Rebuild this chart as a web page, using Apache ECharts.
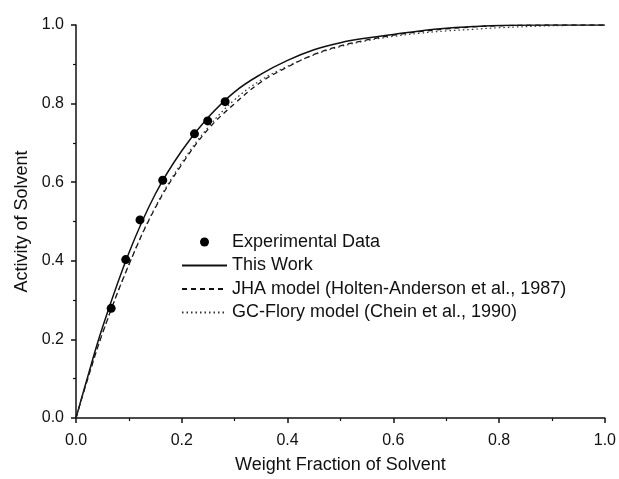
<!DOCTYPE html>
<html>
<head>
<meta charset="utf-8">
<script src="https://cdn.jsdelivr.net/npm/echarts@6/dist/echarts.min.js"></script>
<style>
  html, body { margin: 0; padding: 0; background: #fff; }
  #chart { width: 619px; height: 479px; }
</style>
</head>
<body>
<div id="chart"></div>
<script>
// measured points
const expX = [0.0665, 0.094, 0.121, 0.164, 0.224, 0.249, 0.282];
const expY = [0.279, 0.403, 0.504, 0.605, 0.723, 0.756, 0.805];

// model curves
const curveX = [0, 0.02, 0.05, 0.1, 0.15, 0.2, 0.25, 0.3, 0.35, 0.4, 0.45, 0.5, 0.55, 0.6, 0.65, 0.7, 0.75, 0.8, 0.9, 1.0];
const thisWork = [0, 0.095, 0.23, 0.42, 0.57, 0.68, 0.765, 0.83, 0.875, 0.91, 0.937, 0.955, 0.967, 0.976, 0.985, 0.992, 0.996, 0.999, 1.0, 1.0];
const jha = [0, 0.09, 0.215, 0.39, 0.535, 0.645, 0.735, 0.80, 0.855, 0.893, 0.925, 0.947, 0.962, 0.974, 0.983, 0.99, 0.995, 0.998, 1.0, 1.0];
const gcFlory = [0, 0.09, 0.215, 0.39, 0.537, 0.65, 0.74, 0.81, 0.86, 0.895, 0.924, 0.945, 0.96, 0.971, 0.979, 0.985, 0.989, 0.993, 0.998, 1.0];

const names = ['Experimental Data', 'This Work', 'JHA model (Holten-Anderson et al., 1987)', 'GC-Flory model (Chein et al., 1990)'];

const zip = (xs, ys) => xs.map((x, i) => [x, ys[i]]);
const font = 'Liberation Sans, Arial, sans-serif';

const axisCommon = {
    type: 'value',
    min: 0,
    max: 1,
    interval: 0.2,
    nameLocation: 'middle',
    nameTextStyle: { fontFamily: font, fontSize: 18, color: '#111' },
    axisLine: { show: true, lineStyle: { color: '#111', width: 1.5 } },
    axisTick: { show: true, inside: false, length: 5, lineStyle: { color: '#111', width: 1.5 } },
    minorTick: { show: true, splitNumber: 2, length: 3, lineStyle: { color: '#111', width: 1.2 } },
    splitLine: { show: false },
    axisLabel: {
        fontFamily: font, fontSize: 16, color: '#111',
        formatter: v => v.toFixed(1)
    }
};

var myChart = echarts.init(document.getElementById('chart'), null, { renderer: 'canvas' });

const option = {
    backgroundColor: '#fff',
    animation: false,
    grid: { left: 76, right: 12, top: 25, bottom: 60, containLabel: false },
    xAxis: Object.assign({}, axisCommon, {
        name: 'Weight Fraction of Solvent',
        nameGap: 38,
        axisLabel: Object.assign({}, axisCommon.axisLabel, { margin: 15 })
    }),
    yAxis: Object.assign({}, axisCommon, {
        name: 'Activity of Solvent',
        nameGap: 45,
        axisLabel: Object.assign({}, axisCommon.axisLabel, { margin: 12 })
    }),
    legend: {
        orient: 'vertical',
        left: 181,
        top: 233,
        padding: 0,
        itemWidth: 45,
        itemHeight: 9,
        itemGap: 5.5,
        textStyle: { fontFamily: font, fontSize: 18, color: '#111' },
        data: [
            { name: names[0], icon: 'circle' },
            { name: names[1], itemStyle: { opacity: 0 } },
            { name: names[2], itemStyle: { opacity: 0 } },
            { name: names[3], itemStyle: { opacity: 0 } }
        ]
    },
    series: [
        {
            name: names[0],
            type: 'scatter',
            symbol: 'circle',
            symbolSize: 9,
            itemStyle: { color: '#000', opacity: 1 },
            data: zip(expX, expY),
            z: 5
        },
        {
            name: names[1],
            type: 'line',
            smooth: 0.4,
            symbol: 'none',
            lineStyle: { color: '#111', width: 1.5, type: 'solid' },
            itemStyle: { color: '#111' },
            data: zip(curveX, thisWork)
        },
        {
            name: names[2],
            type: 'line',
            smooth: 0.4,
            symbol: 'none',
            lineStyle: { color: '#111', width: 1.3, type: [5, 4] },
            itemStyle: { color: '#111' },
            data: zip(curveX, jha)
        },
        {
            name: names[3],
            type: 'line',
            smooth: 0.4,
            symbol: 'none',
            lineStyle: { color: '#333', width: 1.2, type: [1.5, 3] },
            itemStyle: { color: '#333' },
            data: zip(curveX, gcFlory)
        }
    ]
};

myChart.setOption(option);
</script>
</body>
</html>
